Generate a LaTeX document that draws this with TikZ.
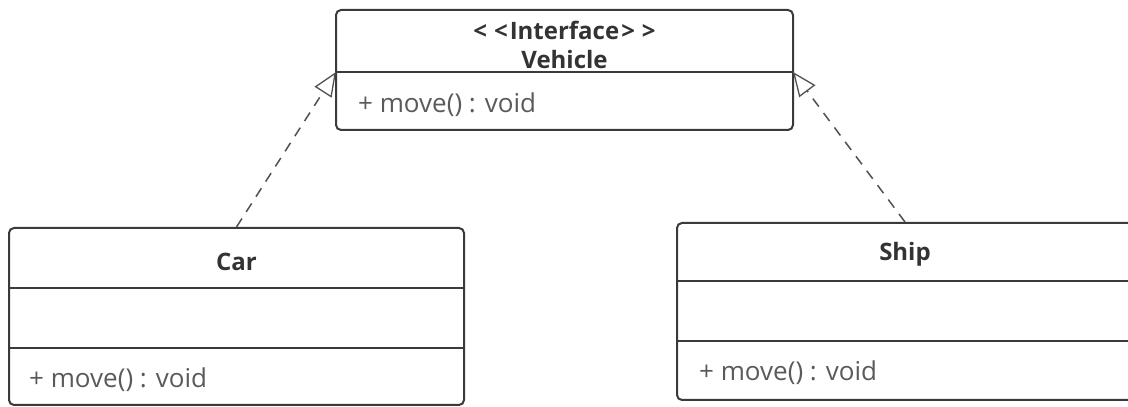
\documentclass[tikz,border=0pt]{standalone}
\usepackage{fontspec}
\setmainfont{Open Sans}
\usetikzlibrary{arrows.meta}
\definecolor{boxline}{HTML}{3A3A3A}
\definecolor{titletext}{HTML}{333333}
\definecolor{bodytext}{HTML}{5A5A5A}
\definecolor{dashline}{HTML}{505050}
\tikzset{
  umlbox/.style={draw=boxline, line width=2pt, rounded corners=5pt, rectangle, inner sep=0pt},
  divider/.style={draw=boxline, line width=2pt},
  titlelabel/.style={font=\fontsize{24}{28}\selectfont\bfseries, text=titletext, align=center, inner sep=0pt},
  methodlabel/.style={font=\fontsize{26}{30}\selectfont, text=bodytext, anchor=west, inner sep=0pt},
  realize/.style={draw=dashline, line width=1.5pt, dash pattern=on 10pt off 8pt,
    -{Triangle[open, length=24pt, width=20pt, line width=1.3pt]}}
}
\begin{document}
\begin{tikzpicture}[x=1pt, y=1pt]
\useasboundingbox (0,0) rectangle (1128,407);
\clip (0,0) rectangle (1128,407);
% Vehicle
\node[umlbox, minimum width=457pt, minimum height=120pt] (vehicle) at (564.5,337) {};
\coordinate (vdivL) at (336,335);
\coordinate (vdivR) at (793,335);
\draw[divider] (vdivL) -- (vdivR);
\node[titlelabel] (vtitle) at (564.5,377) {<\hspace{7pt}<\hspace{2pt}Interface\hspace{2pt}>\hspace{7pt}>};
\node[titlelabel] (vname) at (564.5,347) {Vehicle};
\node[methodlabel] (vmethod) at (358,302) {+ move() : void};
% Car
\node[umlbox, minimum width=455pt, minimum height=177pt] (car) at (236.5,90.5) {};
\coordinate (cd1L) at (9,119);
\coordinate (cd1R) at (464,119);
\coordinate (cd2L) at (9,59);
\coordinate (cd2R) at (464,59);
\draw[divider] (cd1L) -- (cd1R);
\draw[divider] (cd2L) -- (cd2R);
\node[titlelabel] (ctitle) at (236.5,145) {Car};
\node[methodlabel] (cmethod) at (29,27) {+ move() : void};
% Ship
\node[umlbox, minimum width=456pt, minimum height=177pt] (ship) at (905,95.5) {};
\coordinate (sd1L) at (677,126);
\coordinate (sd1R) at (1133,126);
\coordinate (sd2L) at (677,66);
\coordinate (sd2R) at (1133,66);
\draw[divider] (sd1L) -- (sd1R);
\draw[divider] (sd2L) -- (sd2R);
\node[titlelabel] (stitle) at (905,153) {Ship};
\node[methodlabel] (smethod) at (699,34) {+ move() : void};
% realizations
\draw[realize] (car.north) -- (vdivL);
\draw[realize] (ship.north) -- (vdivR);
\end{tikzpicture}
\end{document}
